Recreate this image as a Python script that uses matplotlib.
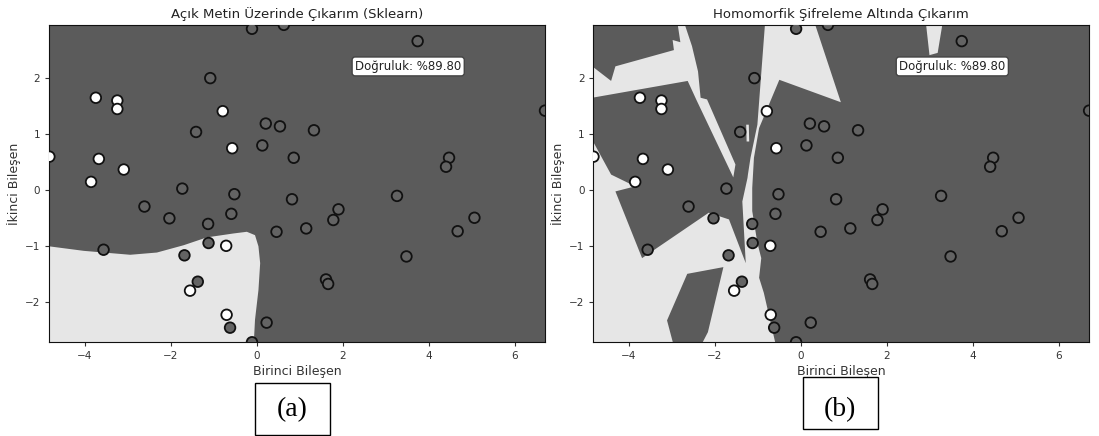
import numpy as np
import matplotlib
matplotlib.use('Agg')
import matplotlib.pyplot as plt
from matplotlib.patches import Polygon, Rectangle

# sample points (first two components) and predicted class (1 = light)
pts_x = [-0.11, 0.63, -1.08, -3.74, -3.24, -3.24, -0.79, 0.21, 0.54, -1.41,
         -0.57, 0.13, 0.86, -4.82, -3.67, -3.09, -3.85, -1.73, 3.74, 1.33,
         4.47, 4.40, 6.70, -0.52, 0.82, -2.61, -2.03, -0.59, -1.13, 0.46,
         -3.56, -1.12, -0.71, -1.68, -1.37, -1.55, -0.70, -0.62, 0.23, -0.11,
         3.26, 1.90, 1.78, 1.15, 5.06, 4.67, 3.48, 1.61, 1.66]
pts_y = [2.88, 2.95, 2.00, 1.65, 1.60, 1.45, 1.41, 1.19, 1.14, 1.04,
         0.75, 0.80, 0.58, 0.60, 0.56, 0.37, 0.15, 0.03, 2.66, 1.07,
         0.58, 0.42, 1.42, -0.07, -0.16, -0.29, -0.50, -0.42, -0.60, -0.74,
         -1.06, -0.94, -0.99, -1.16, -1.63, -1.79, -2.22, -2.45, -2.36, -2.71,
         -0.10, -0.34, -0.53, -0.68, -0.49, -0.73, -1.18, -1.59, -1.67]
pts_cls = [0, 0, 0, 1, 1, 1, 1, 0, 0, 0,
           1, 0, 0, 1, 1, 1, 1, 0, 0, 0,
           0, 0, 0, 0, 0, 0, 0, 0, 0, 0,
           0, 0, 1, 0, 0, 1, 1, 0, 0, 0,
           0, 0, 0, 0, 0, 0, 0, 0, 0]

# plaintext (sklearn) decision region, light class
sk_region_x = [-5.0, -4.82, -4.02, -2.94, -2.32, -1.70, -1.16, -0.54, -0.23,
               -0.04, 0.04, 0.08, 0.04, -0.04, -0.08, -5.0]
sk_region_y = [-1.00, -1.00, -1.08, -1.15, -1.11, -0.98, -0.84, -0.77, -0.74,
               -0.80, -1.00, -1.30, -1.78, -2.31, -2.90, -2.90]

# homomorphic decision regions, light class
he_band_x = [-5.0, -4.41, -4.31, -2.95, -2.98, -2.80, -2.89, -2.76, -2.53, -2.39,
             -2.33, -2.18, -1.52, -1.57, -2.42, -2.63, -5.0]
he_band_y = [2.30, 1.95, 2.21, 2.50, 2.68, 2.64, 3.10, 3.10, 2.57, 2.12,
             1.65, 1.62, 0.46, 0.23, 1.60, 1.95, 1.63]
he_main_x = [-5.0, -4.41, -3.85, -4.31, -3.69, -2.14, -1.67, -1.28, -1.36, -1.24,
             -1.23, -1.17, -1.01, -0.82, 0.27, 0.93, -0.50, -0.97, -1.09, -1.13,
             -1.13, -1.01, -0.92, -0.97, -0.86, -0.54, -5.0]
he_main_y = [1.11, 0.28, 0.07, -0.02, -1.21, -0.40, -0.52, -1.30, -0.20, 0.22,
             0.28, 0.58, 1.17, 3.10, 3.10, 1.57, 1.97, 1.11, 0.58, 0.04,
             -0.37, -0.94, -1.21, -1.56, -1.83, -2.90, -2.90]
he_top_x = [2.89, 3.32, 3.18, 2.99]
he_top_y = [3.10, 3.10, 2.45, 2.41]
he_chip_x = [-1.27, -1.21, -1.20, -1.26]
he_chip_y = [1.17, 1.17, 0.87, 0.87]
# dark island inside light area
he_hole_x = [-2.64, -1.80, -2.16, -2.41, -2.91, -3.11]
he_hole_y = [-1.49, -1.37, -2.53, -2.90, -2.90, -2.32]

acc_text = 'Doğruluk: %89.80'
DARK = '#5b5b5b'
LIGHT = '#e6e6e6'


def draw_points(ax):
    cols = ['#ffffff' if c == 1 else '#636363' for c in pts_cls]
    ax.scatter(pts_x, pts_y, c=cols, s=58, edgecolors='#111111',
               linewidths=1.3, zorder=3, clip_on=True)


def finish(ax, title):
    ax.set_xlim(min(pts_x), max(pts_x))
    ax.set_ylim(min(pts_y), max(pts_y))
    ax.set_xticks([-4, -2, 0, 2, 4, 6])
    ax.set_yticks([-2, -1, 0, 1, 2])
    ax.tick_params(labelsize=7.5, colors='#333333', length=3)
    ax.set_title(title, fontsize=9.5, color='#222222', pad=5)
    ax.set_xlabel('Birinci Bileşen', fontsize=9, color='#333333', labelpad=3)
    ax.set_ylabel('İkinci Bileşen', fontsize=9, color='#333333', labelpad=3)
    ax.text(0.724, 0.869, acc_text, transform=ax.transAxes, ha='center',
            va='center', fontsize=8.5, color='#222222', zorder=5,
            bbox=dict(boxstyle='round,pad=0.25', fc='white', ec='#444444', lw=1))
    for s in ax.spines.values():
        s.set_color('#111111')


fig = plt.figure(figsize=(10.99, 4.36), dpi=100)
ax1 = fig.add_axes([0.0449, 0.215, 0.451, 0.728])
ax2 = fig.add_axes([0.540, 0.215, 0.451, 0.728])

ax1.set_facecolor(DARK)
ax1.add_patch(Polygon(np.column_stack([sk_region_x, sk_region_y]), closed=True,
                      fc=LIGHT, ec='none', zorder=1))
draw_points(ax1)
finish(ax1, 'Açık Metin Üzerinde Çıkarım (Sklearn)')

ax2.set_facecolor(DARK)
for px, py in [(he_band_x, he_band_y), (he_main_x, he_main_y),
               (he_top_x, he_top_y), (he_chip_x, he_chip_y)]:
    ax2.add_patch(Polygon(np.column_stack([px, py]), closed=True,
                          fc=LIGHT, ec='none', zorder=1))
ax2.add_patch(Polygon(np.column_stack([he_hole_x, he_hole_y]), closed=True,
                      fc=DARK, ec='none', zorder=1.5))
draw_points(ax2)
finish(ax2, 'Homomorfik Şifreleme Altında Çıkarım')

# sub-figure labels
for x0, y0, tx, lab in [(0.2316, 0.002, 0.2657, '(a)'), (0.7304, 0.016, 0.7643, '(b)')]:
    fig.patches.append(Rectangle((x0, y0), 0.0688, 0.119, transform=fig.transFigure,
                                 fill=False, ec='black', lw=1))
    fig.text(tx, 0.0596, lab, ha='center', va='center', fontsize=20,
             family='Liberation Serif', color='black')

fig.savefig('out.png', dpi=100)
